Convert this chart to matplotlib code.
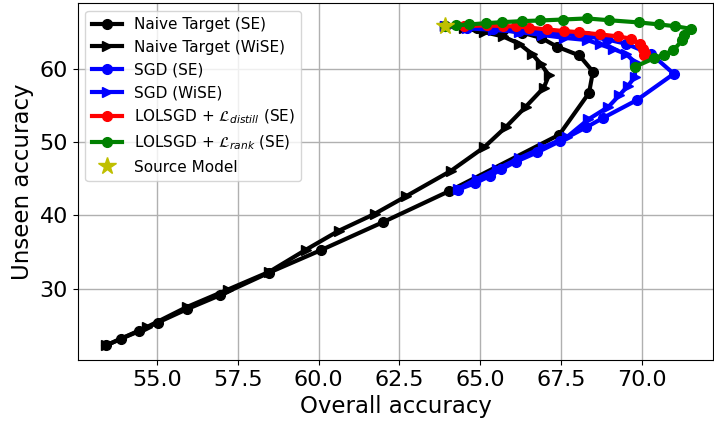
import matplotlib
matplotlib.use("Agg")
import matplotlib.pyplot as plt

# Naive Target (SE)
naive_se_x = [63.9, 64.9, 65.7, 66.3, 66.88, 67.37, 68.06, 68.48, 68.36, 67.44, 64.03, 62.0, 60.09, 58.47, 56.94, 55.92, 55.03, 54.44, 53.9, 53.44]
naive_se_y = [65.8, 65.6, 65.3, 64.9, 64.2, 63.0, 61.8, 59.6, 56.7, 51.0, 43.3, 39.1, 35.3, 32.2, 29.1, 27.2, 25.4, 24.2, 23.2, 22.3]

# Naive Target (WiSE)
naive_wise_x = [63.9, 64.5, 65.1, 65.7, 66.2, 66.6, 66.86, 67.12, 66.96, 66.4, 65.79, 65.12, 64.1, 62.7, 61.73, 60.62, 59.6, 58.47, 57.2, 55.92, 54.7, 53.44]
naive_wise_y = [65.8, 65.5, 65.0, 64.4, 63.4, 62.0, 60.7, 59.1, 57.4, 54.8, 52.05, 49.3, 46.1, 42.6, 40.2, 37.9, 35.3, 32.3, 29.9, 27.5, 24.8, 22.3]

# SGD (SE)
sgd_se_x = [63.9, 64.6, 65.4, 66.2, 66.9, 67.6, 68.3, 68.9, 69.5, 70.28, 70.98, 69.83, 68.8, 68.27, 67.45, 66.76, 66.09, 65.65, 65.31, 64.84, 64.3]
sgd_se_y = [65.8, 65.6, 65.4, 65.2, 65.0, 64.7, 64.4, 64.0, 63.4, 62.0, 59.3, 55.7, 53.3, 52.0, 50.1, 48.6, 47.3, 46.3, 45.4, 44.4, 43.5]

# SGD (WiSE)
sgd_wise_x = [63.9, 64.6, 65.4, 66.2, 66.9, 67.6, 68.3, 68.7, 69.1, 69.5, 69.78, 69.78, 69.57, 69.3, 68.96, 68.34, 67.68, 66.95, 66.2, 65.5, 64.9, 64.3]
sgd_wise_y = [65.8, 65.5, 65.3, 65.0, 64.6, 64.2, 63.9, 63.3, 62.7, 62.0, 60.9, 58.9, 57.7, 56.4, 54.8, 53.1, 50.7, 49.3, 47.8, 46.3, 45.0, 43.6]

# LOLSGD + L_distill (SE)
distill_x = [63.9, 64.5, 65.2, 65.7, 66.1, 66.5, 67.06, 67.6, 68.04, 68.7, 69.26, 69.67, 69.93, 70.03, 70.08, 70.05]
distill_y = [65.8, 65.8, 65.9, 65.8, 65.76, 65.6, 65.35, 65.12, 64.98, 64.67, 64.4, 64.08, 63.4, 62.72, 62.12, 61.8]

# LOLSGD + L_rank (SE)
rank_x = [63.9, 64.25, 64.66, 65.17, 65.68, 66.28, 66.85, 67.55, 68.29, 68.99, 69.91, 70.53, 71.03, 71.5, 71.3, 71.24, 70.97, 70.69, 70.36, 69.77]
rank_y = [65.8, 65.9, 66.03, 66.2, 66.34, 66.48, 66.57, 66.7, 66.85, 66.6, 66.3, 66.03, 65.78, 65.44, 64.6, 63.85, 62.55, 61.92, 61.4, 60.25]

# Source model
source_x = [63.9]
source_y = [65.8]

fig = plt.figure(figsize=(7.14, 4.23), dpi=100)
ax = fig.add_axes([0.109, 0.149, 0.89, 0.843])

lw = 3
ms = 7
ax.plot(naive_se_x, naive_se_y, color='black', marker='o', lw=lw, ms=ms, label='Naive Target (SE)')
ax.plot(naive_wise_x, naive_wise_y, color='black', marker='>', lw=lw, ms=ms, label='Naive Target (WiSE)')
ax.plot(sgd_se_x, sgd_se_y, color='blue', marker='o', lw=lw, ms=ms, label='SGD (SE)')
ax.plot(sgd_wise_x, sgd_wise_y, color='blue', marker='>', lw=lw, ms=ms, label='SGD (WiSE)')
ax.plot(distill_x, distill_y, color='red', marker='o', lw=lw, ms=ms, label=r'LOLSGD + $\mathcal{L}_{distill}$ (SE)')
ax.plot(rank_x, rank_y, color='green', marker='o', lw=lw, ms=ms, label=r'LOLSGD + $\mathcal{L}_{rank}$ (SE)')
ax.plot(source_x, source_y, color='y', marker='*', ls='none', ms=13, label='Source Model')

ax.set_xlim(52.56, 72.2)
ax.set_ylim(20.3, 68.9)
ax.set_xticks([55.0, 57.5, 60.0, 62.5, 65.0, 67.5, 70.0])
ax.set_xticklabels(['55.0', '57.5', '60.0', '62.5', '65.0', '67.5', '70.0'])
ax.set_yticks([30, 40, 50, 60])
ax.tick_params(labelsize=16)
ax.set_xlabel('Overall accuracy', fontsize=16.5)
ax.set_ylabel('Unseen accuracy', fontsize=16.5)
ax.grid(True, color='#b0b0b0', lw=1)
ax.legend(loc='upper left', fontsize=11)

fig.savefig('out.png', dpi=100)
